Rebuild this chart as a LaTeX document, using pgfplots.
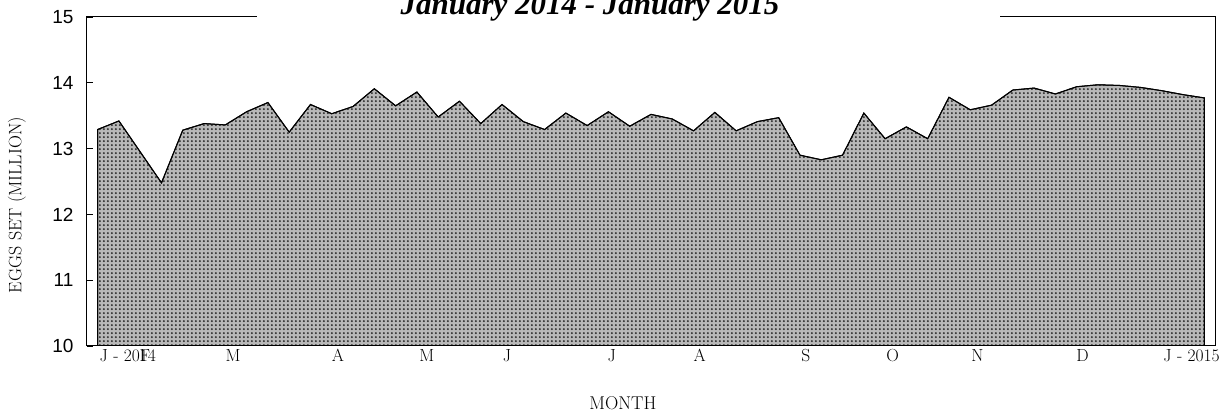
\documentclass[border=0pt]{standalone}
\usepackage{fontspec}
\usepackage{pgfplots}
\pgfplotsset{compat=1.18}
\usetikzlibrary{patterns,calc}
\newfontfamily\ticksans{Liberation Sans}
\newfontfamily\titlefont{Liberation Serif}
\pgfdeclarepatternformonly{halftone}{\pgfqpoint{0pt}{0pt}}{\pgfqpoint{4.3pt}{4.3pt}}{\pgfqpoint{4.3pt}{4.3pt}}{%
  \pgfpathcircle{\pgfqpoint{2.15pt}{2.15pt}}{1.25pt}\pgfusepath{fill}}
\pgfplotstableread{
i v
0 13.29
1 13.42
2 12.95
3 12.48
4 13.28
5 13.38
6 13.36
7 13.56
8 13.70
9 13.25
10 13.67
11 13.53
12 13.64
13 13.91
14 13.65
15 13.86
16 13.48
17 13.72
18 13.38
19 13.67
20 13.41
21 13.29
22 13.54
23 13.35
24 13.56
25 13.34
26 13.52
27 13.45
28 13.27
29 13.55
30 13.27
31 13.41
32 13.47
33 12.90
34 12.83
35 12.90
36 13.54
37 13.15
38 13.33
39 13.15
40 13.78
41 13.59
42 13.66
43 13.89
44 13.92
45 13.83
46 13.94
47 13.97
48 13.96
49 13.93
50 13.88
51 13.82
52 13.77
}\eggs
\begin{document}
\begin{tikzpicture}
\begin{axis}[
  scale only axis,
  width=1128pt, height=329pt,
  xmin=-0.5, xmax=52.5,
  ymin=10, ymax=15,
  axis on top,
  axis line style={line width=1pt},
  tick pos=left,
  ytick={10,11,12,13,14,15},
  major tick length=6pt,
  minor tick length=4pt,
  tick style={line width=0.8pt, black},
  xtick={1.42,2.22,6.36,11.29,15.47,19.23,24.16,28.29,33.27,37.35,41.34,46.28,51.40},
  xticklabels={J - 2014,F,M,A,M,J,J,A,S,O,N,D,J - 2015},
  xtick style={draw=none},
  minor xtick={0.5,1.5,...,51.5},
  xticklabel style={font=\fontsize{17.5}{17.5}\selectfont},
  yticklabel style={font=\ticksans\fontsize{19}{19}\selectfont, /pgf/number format/assume math mode=true, xshift=-10pt},
  ylabel={EGGS SET (MILLION)},
  ylabel style={at={(axis description cs:-0.0621,0.4286)}, anchor=center, font=\fontsize{18}{18}\selectfont},
  xlabel={MONTH},
  xlabel style={at={(axis description cs:0.475,-0.1748)}, anchor=center, font=\fontsize{18.5}{18.5}\selectfont},
]
\addplot[draw=black, line width=1pt, fill=black!28, postaction={pattern=halftone, pattern color=black!80}] table[x=i, y=v] {\eggs} \closedcycle;
\coordinate (SW) at (rel axis cs:0,0);
\coordinate (NE) at (rel axis cs:1,1);
\coordinate (NW) at (rel axis cs:0,1);
\end{axis}
\fill[white] ($(NW)+(170pt,-3pt)$) rectangle ($(NW)+(913pt,3pt)$);
\node[anchor=base, inner sep=0pt, font=\titlefont\bfseries\itshape\fontsize{31}{31}\selectfont] at ($(NW)+(503pt,2pt)$) {January 2014 - January 2015};
\pgfresetboundingbox
\path[use as bounding box] ($(SW)+(-87pt,-65pt)$) rectangle ($(NE)+(10pt,17pt)$);
\end{tikzpicture}
\end{document}
